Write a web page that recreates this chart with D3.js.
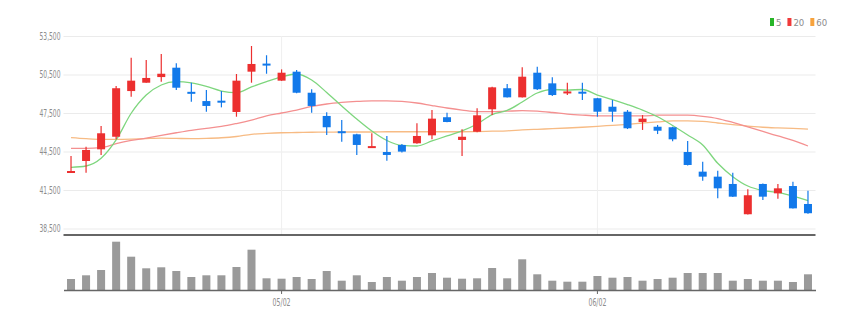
<!DOCTYPE html>
<html>
<head>
<meta charset="utf-8">
<script src="https://cdn.jsdelivr.net/npm/d3@7/dist/d3.min.js"></script>
<style>
  html, body { margin: 0; padding: 0; background: #fff; }
  svg { display: block; }
  text { font-family: "Liberation Sans Narrow", "DejaVu Sans Condensed", "Liberation Sans", sans-serif; }
</style>
</head>
<body>
<svg id="chart" width="855" height="326"></svg>
<script>
// Daily candles (won)
const opens  = [42830,43760,44670,45650,49210,49860,50300,51030,49150,48430,48460,47580,50720,51350,50020,50720,49080,47270,46080,45840,44850,44460,45010,45140,45760,47170,45400,46040,47790,49430,48720,50640,49810,49130,49160,48650,47990,47600,46800,46430,46390,44460,42930,42540,41970,39610,41970,41240,41810,40410];
const highs  = [44150,44870,46490,49600,51810,51630,52100,51370,49860,49290,49210,50540,52720,52000,50900,50850,49350,47560,46960,45880,45920,45710,45080,46700,47730,47520,46230,47870,49550,49760,51060,51110,50280,49860,49860,48680,48510,47730,47340,46570,46420,45320,43700,43000,42850,41560,42000,41970,42150,41450];
const lows   = [42830,42850,44230,45450,48770,49860,49940,49290,48380,47600,47940,47210,49860,50560,50000,49030,47520,45790,45260,44230,44850,43780,44420,45100,45450,46780,44150,46000,47340,48700,48700,49300,48830,48900,48510,47210,46820,46250,46180,45860,45300,43400,42230,40850,40950,39600,40720,40820,40050,39650];
const closes = [42980,44620,45920,49430,50020,50230,50560,49470,49100,48050,48420,50020,51320,51300,50640,49080,48050,46390,46020,45010,44920,44230,44490,45710,47060,46800,45650,47320,49500,48720,50330,49350,48900,49180,49110,47600,47600,46310,47060,46120,45450,43450,42540,41630,40980,41090,40980,41630,40070,39690];

// Moving averages (5 / 20 / 60 day)
const ma5  = [43270,43370,43970,45400,47480,48900,49680,49940,49840,49570,49210,49080,49530,49940,50310,50540,50070,49100,48050,47030,46100,45360,44970,44930,45320,45710,46100,46640,47380,47700,48360,49060,49330,49290,49330,48900,48550,48160,47730,47210,46530,45790,45010,43580,42540,41810,41460,41310,41030,40680];
const ma20 = [44750,44750,44800,45110,45360,45550,45760,45960,46150,46310,46450,46680,46950,47270,47500,47730,48010,48200,48320,48400,48450,48450,48400,48280,48080,47890,47730,47600,47600,47640,47680,47640,47540,47420,47340,47280,47270,47270,47270,47330,47340,47330,47240,47070,46760,46420,46060,45710,45360,44930];
const ma60 = [45580,45500,45450,45450,45470,45510,45540,45520,45500,45520,45570,45670,45840,45910,45960,45980,46000,46010,46020,46020,46020,46040,46040,46040,46040,46040,46040,46050,46080,46110,46180,46230,46280,46330,46390,46460,46540,46620,46720,46810,46880,46880,46840,46720,46600,46470,46390,46340,46300,46250];

// Traded volume (shares)
const volumes = [110000,147000,200000,483000,333000,217000,227000,190000,130000,147000,147000,230000,403000,117000,113000,130000,110000,190000,93000,147000,80000,130000,93000,130000,170000,123000,113000,117000,220000,117000,307000,157000,93000,83000,83000,140000,123000,130000,93000,110000,123000,170000,170000,170000,93000,110000,93000,93000,80000,157000];

// Axis labels
const priceTicks = [38500, 41500, 44500, 47500, 50500, 53500];
const dateTickIndex = [14, 35];
const dateTickLabels = ["05/02", "06/02"];
const maNames = ["5", "20", "60"];

const svg = d3.select("#chart");
const left = 63.5, right = 815.5;
const n = closes.length;

const x = d3.scaleBand().domain(d3.range(n)).range([left, right]).padding(0);
const cx = i => x(i) + x.bandwidth() / 2;
const y = d3.scaleLinear().domain([38500, 53500]).range([228.5, 36]);
const yv = d3.scaleLinear().domain([0, 500000]).range([290, 240]);

const UP = "#ec2f2f", DOWN = "#1279ea";
const maColors = ["#7ed67e", "#f49090", "#f7bb84"];
const legendColors = ["#27b527", "#f03a3a", "#f7a23c"];

// Price grid and labels
const yAxis = d3.axisLeft(y)
  .tickValues(priceTicks)
  .tickFormat(d3.format(","))
  .tickSize(-(right - left))
  .tickPadding(3);
const gy = svg.append("g").attr("transform", `translate(${left},0)`).call(yAxis);
gy.select(".domain").remove();
gy.selectAll(".tick line").attr("stroke", "#ebebeb").attr("stroke-width", 1);
gy.selectAll(".tick text")
  .attr("fill", "#8c8c8c")
  .attr("font-size", 10)
  .attr("textLength", 21)
  .attr("lengthAdjust", "spacingAndGlyphs");

// Month separators
svg.append("g").selectAll("line").data(dateTickIndex).join("line")
  .attr("x1", d => cx(d)).attr("x2", d => cx(d))
  .attr("y1", 36).attr("y2", 235)
  .attr("stroke", "#efefef").attr("stroke-width", 1);

// Moving average lines
const maSeries = [ma5, ma20, ma60];
const line = d3.line().x((d, i) => cx(i)).y(d => y(d)).curve(d3.curveMonotoneX);
svg.append("g").selectAll("path").data(maSeries.slice().reverse()).join("path")
  .attr("d", line)
  .attr("fill", "none")
  .attr("stroke", (d, i) => maColors[2 - i])
  .attr("stroke-width", 1.3);

// Candles
const bodyW = 8;
const candles = svg.append("g").selectAll("g").data(d3.range(n)).join("g")
  .attr("fill", i => closes[i] >= opens[i] ? UP : DOWN)
  .attr("stroke", i => closes[i] >= opens[i] ? UP : DOWN);
candles.append("line")
  .attr("x1", cx).attr("x2", cx)
  .attr("y1", i => y(highs[i])).attr("y2", i => y(lows[i]))
  .attr("stroke-width", 1.2);
candles.append("rect")
  .attr("x", i => cx(i) - bodyW / 2)
  .attr("width", bodyW)
  .attr("y", i => y(Math.max(opens[i], closes[i])))
  .attr("height", i => Math.max(2, Math.abs(y(opens[i]) - y(closes[i]))))
  .attr("stroke", "none");

// Divider under price panel
svg.append("line")
  .attr("x1", left).attr("x2", right).attr("y1", 235).attr("y2", 235)
  .attr("stroke", "#333").attr("stroke-width", 1.6);

// Volume bars
svg.append("g").selectAll("rect").data(volumes).join("rect")
  .attr("x", (d, i) => cx(i) - 4)
  .attr("width", 8)
  .attr("y", d => yv(d))
  .attr("height", d => yv(0) - yv(d))
  .attr("fill", "#9a9a9a");

// Date axis
const xAxis = d3.axisBottom(x)
  .tickValues(dateTickIndex)
  .tickFormat(d => dateTickLabels[dateTickIndex.indexOf(d)])
  .tickSize(4)
  .tickSizeOuter(0)
  .tickPadding(5);
const gx = svg.append("g").attr("transform", "translate(0,290)").call(xAxis);
gx.select(".domain").attr("stroke", "#666").attr("stroke-width", 1.6);
gx.selectAll(".tick line").attr("stroke", "#666");
gx.selectAll(".tick text")
  .attr("fill", "#8c8c8c")
  .attr("font-size", 10)
  .attr("textLength", 18)
  .attr("lengthAdjust", "spacingAndGlyphs");

// Legend
const legend = svg.append("g").attr("transform", "translate(770,18)");
let lx = 0;
maNames.forEach((name, k) => {
  legend.append("rect").attr("x", lx).attr("y", 0).attr("width", 4).attr("height", 8).attr("fill", legendColors[k]);
  const t = legend.append("text").attr("x", lx + 6).attr("y", 7.5)
    .attr("font-size", 9.5).attr("fill", "#8c8c8c").text(name);
  lx += 6 + t.node().getComputedTextLength() + 6;
});
</script>
</body>
</html>
